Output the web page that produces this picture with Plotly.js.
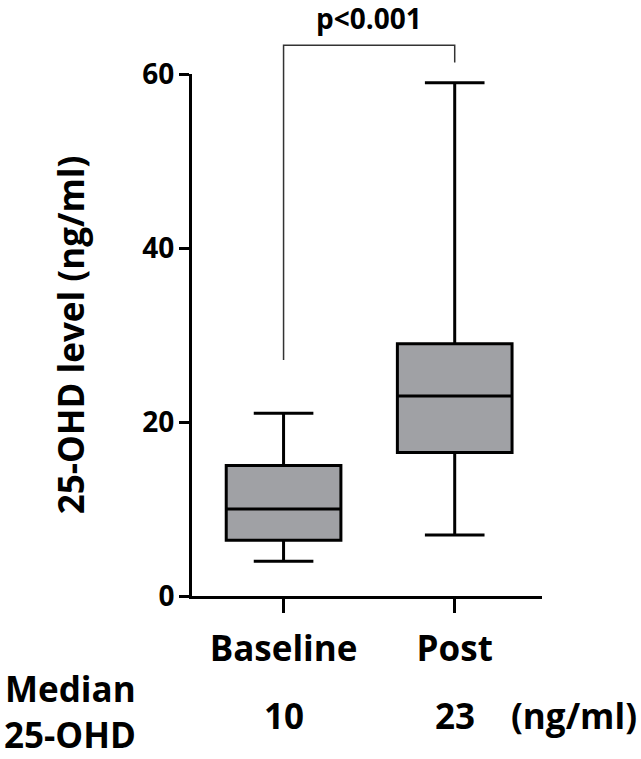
<!DOCTYPE html>
<html>
<head>
<meta charset="utf-8">
<script src="https://cdn.plot.ly/plotly-3.0.1.min.js"></script>
<style>
  body { margin: 0; background: #fff; }
  #chart { width: 641px; height: 759px; }
</style>
</head>
<body>
<div id="chart"></div>
<script>
// Groupes et statistiques des boîtes (ng/ml)
const groups = ["Baseline", "Post"];
const lowerWhisker = [4, 7];
const q1 = [6.4, 16.5];
const medians = [10, 23];
const q3 = [15, 29];
const upperWhisker = [21, 59];

// Axe Y
const yTicks = [0, 20, 40, 60];
const pText = "p<0.001";
const unitText = "(ng/ml)";

const FONT = "Open Sans, Lato, sans-serif";

const trace = {
  type: "box",
  x: groups,
  q1: q1,
  median: medians,
  q3: q3,
  lowerfence: lowerWhisker,
  upperfence: upperWhisker,
  width: 0.67,
  whiskerwidth: 0.52,
  fillcolor: "#a0a1a5",
  line: { color: "#000", width: 3 },
  boxpoints: false,
  hoverinfo: "skip",
};

// Annotations : valeur p, médianes et légende à gauche
const annotations = [
  {
    xref: "x", yref: "paper", x: 0.5, y: 1.107, yanchor: "middle",
    text: pText, showarrow: false,
    font: { size: 28, weight: 700, color: "#000" },
  },
  {
    xref: "paper", yref: "paper", x: -0.54, y: -0.178,
    xanchor: "left", yanchor: "middle", text: "Median", showarrow: false,
    font: { size: 35, weight: 700, color: "#000" },
  },
  {
    xref: "paper", yref: "paper", x: -0.54, y: -0.266,
    xanchor: "left", yanchor: "middle", borderpad: 0,
    text: "25-OHD", showarrow: false,
    font: { size: 35, weight: 700, color: "#000" },
  },
  {
    xref: "paper", yref: "paper", x: 0.907, y: -0.228,
    xanchor: "left", yanchor: "middle", text: unitText, showarrow: false,
    font: { size: 35, weight: 700, color: "#000" },
  },
];
groups.forEach((g, i) => {
  annotations.push({
    xref: "x", yref: "paper", x: g, y: -0.228, yanchor: "middle",
    text: String(medians[i]), showarrow: false,
    font: { size: 35, weight: 700, color: "#000" },
  });
});

const layout = {
  width: 641,
  height: 759,
  margin: { l: 192, r: 99, t: 74, b: 163 },
  paper_bgcolor: "#fff",
  plot_bgcolor: "#fff",
  showlegend: false,
  font: { family: FONT, color: "#000", weight: 700 },
  xaxis: {
    type: "category",
    range: [-0.535, 1.51],
    showline: true,
    linecolor: "#000",
    linewidth: 3,
    ticks: "outside",
    ticklen: 14,
    tickwidth: 3,
    tickcolor: "#000",
    ticklabelstandoff: 6,
    tickfont: { size: 35, weight: 700 },
    showgrid: false,
    zeroline: false,
    fixedrange: true,
  },
  yaxis: {
    range: [0, 60],
    tickvals: yTicks,
    showline: true,
    linecolor: "#000",
    linewidth: 3,
    ticks: "outside",
    ticklen: 10,
    tickwidth: 3,
    tickcolor: "#000",
    ticklabelstandoff: -1,
    tickfont: { size: 28, weight: 700 },
    showgrid: false,
    zeroline: false,
    fixedrange: true,
    title: {
      text: "25-OHD level (ng/ml)",
      font: { size: 35, weight: 700 },
      standoff: 48,
    },
  },
  shapes: [
    {
      // crochet de comparaison
      type: "path",
      xref: "x", yref: "paper",
      path: "M 0,0.452 L 0,1.055 L 1,1.055 L 1,1.022",
      line: { color: "#333", width: 1.5 },
    },
  ],
  annotations: annotations,
};

Plotly.newPlot("chart", [trace], layout, { displayModeBar: false, staticPlot: true });
</script>
</body>
</html>
